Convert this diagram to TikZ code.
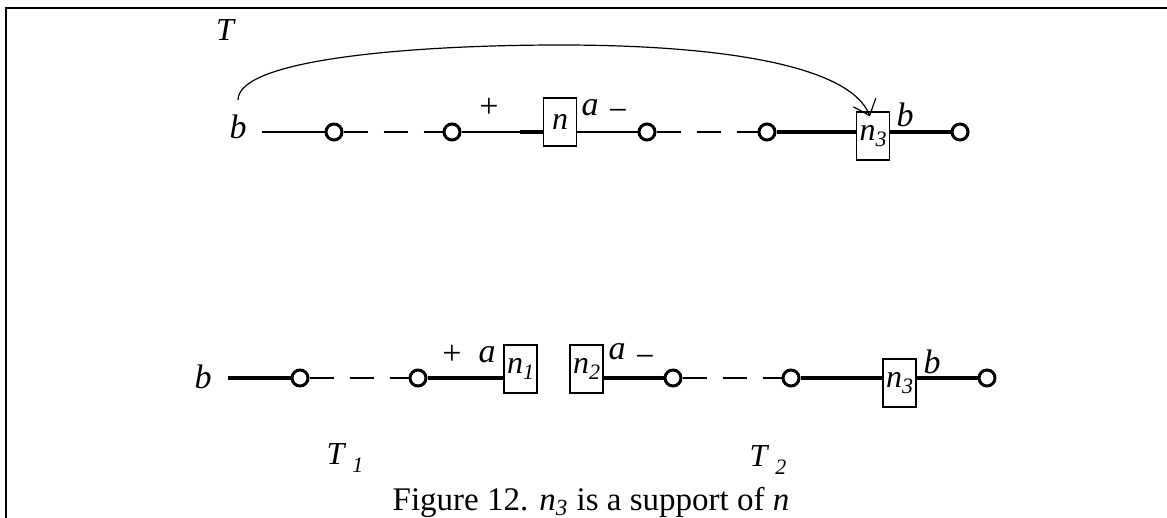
\documentclass[tikz,border=0pt]{standalone}
\usepackage{fontspec}
\setmainfont{Liberation Serif}
\usetikzlibrary{arrows.meta}

\newcommand{\lowidx}[1]{\raisebox{-0.45ex}{\fontsize{11}{11}\selectfont\itshape #1}}

\tikzset{
  hole/.style={circle,draw,line width=1.5pt,minimum size=8pt,inner sep=0pt},
  vbox/.style={rectangle,draw,line width=0.6pt,minimum width=16.5pt,minimum height=24pt,inner sep=0pt,font=\fontsize{16}{16}\selectfont\itshape},
  lbl/.style={inner sep=0pt,font=\fontsize{17}{17}\selectfont\itshape},
  sign/.style={inner sep=0pt,font=\fontsize{17}{17}\selectfont},
  lite/.style={line width=0.6pt},
  solidline/.style={line width=1.2pt},
  heavy/.style={line width=1.6pt},
  heavier/.style={line width=2.1pt},
  gapped/.style={line width=0.6pt,dash pattern=on 12pt off 8pt}
}

\begin{document}
\begin{tikzpicture}[x=0.5pt,y=0.5pt,yscale=-1]
\useasboundingbox (0,0) rectangle (1167,518);

% frame
\draw[line width=1.2pt] (6,518) -- (6,8) -- (1167,8);

% upper tree T
\node[lbl,font=\fontsize{16}{16}\selectfont\itshape] (tT) at (225,30) {T};
\node[lbl] (bT) at (238,127) {b};
\coordinate (arcS) at (238,100);
\coordinate (tA) at (262,132);
\node[hole] (t1) at (334,132) {};
\node[hole] (t2) at (452,132) {};
\coordinate (tJ) at (520,132);
\node[vbox] (nT) at (560,122) {n};
\node[hole] (t3) at (647,132) {};
\node[hole] (t4) at (767,132) {};
\node[vbox] (n3T) at (873,136) {n\lowidx{3}};
\node[hole] (t5) at (960,132) {};

\node[sign] (plusT) at (489,108) {+};
\node[lbl] (aT) at (590,108) {a};
\node[sign] (minusT) at (618,115) {−};
\node[lbl] (b3T) at (905,115) {b};

\draw[solidline] (tA) -- (t1);
\draw[gapped] (t1) -- (t2);
\draw[lite] (t2) -- (tJ);
\draw[heavy] (tJ) -- (tJ -| nT.west);
\draw[solidline] (nT.east |- t3) -- (t3);
\draw[gapped] (t3) -- (t4);
\draw[heavy] (t4) -- (t4 -| n3T.west);
\draw[heavy] (n3T.east |- t5) -- (t5);

\draw[lite,-{Straight Barb[length=7pt,width=12pt]}] (arcS) .. controls (238,58) and (420,45) .. (560,45) .. controls (720,45) and (850,65) .. ([xshift=-1.5pt,yshift=2.5pt]n3T.north);

% lower trees T1 and T2
\node[lbl] (bB) at (203,377) {b};
\coordinate (bA) at (228,378);
\node[hole] (b1) at (300,378) {};
\node[hole] (b2) at (418,378) {};
\node[vbox] (n1B) at (520.5,369) {n\lowidx{1}};
\node[vbox] (n2B) at (586.5,369) {n\lowidx{2}};
\node[hole] (b3) at (673,378) {};
\node[hole] (b4) at (791,378) {};
\coordinate (bJ) at (862,378);
\node[vbox] (n3B) at (899.5,383) {n\lowidx{3}};
\node[hole] (b5) at (987,378) {};

\node[sign] (plusB) at (452,355) {+};
\node[lbl] (a1B) at (487,355) {a};
\node[lbl] (a2B) at (617,352) {a};
\node[sign] (minusB) at (645,361) {−};
\node[lbl] (b3B) at (932,362) {b};

\draw[heavy] (bA) -- (b1);
\draw[gapped] (b1) -- (b2);
\draw[heavy] (b2) -- (b2 -| n1B.west);
\draw[heavy] (n2B.east |- b3) -- (b3);
\draw[gapped] (b3) -- (b4);
\draw[heavy] (b4) -- (bJ);
\draw[heavier] (bJ) -- (bJ -| n3B.west);
\draw[heavy] (n3B.east |- b5) -- (b5);

\node[lbl,font=\fontsize{16}{16}\selectfont\itshape] (t1B) at (345,458) {T\hspace{4pt}\raisebox{-4pt}{\fontsize{11}{11}\selectfont 1}};
\node[lbl,font=\fontsize{16}{16}\selectfont\itshape] (t2B) at (768,460) {T\hspace{4pt}\raisebox{-4pt}{\fontsize{11}{11}\selectfont 2}};

\node[inner sep=0pt,font=\fontsize{16.5}{16.5}\selectfont] (caption) at (591,502) {Figure 12. \textit{n}\textsubscript{\textit{3}} is a support of \textit{n}};
\end{tikzpicture}
\end{document}
